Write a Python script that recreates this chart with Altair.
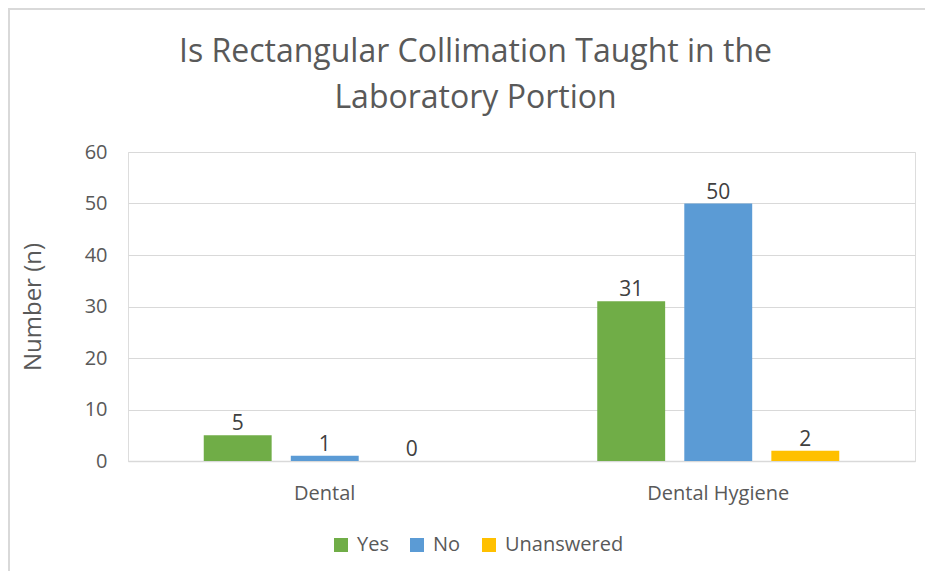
import altair as alt
import pandas as pd

categories = ["Dental", "Dental Hygiene"]
series = ["Yes", "No", "Unanswered"]
yes_vals = [5, 31]
no_vals = [1, 50]
unanswered_vals = [0, 2]
colors = ["#70AD47", "#5B9BD5", "#FFC000"]

rows = []
for i, c in enumerate(categories):
    for s, vals in zip(series, [yes_vals, no_vals, unanswered_vals]):
        rows.append({"category": c, "series": s, "value": vals[i]})
df = pd.DataFrame(rows)

FONT = "Open Sans"
GRAY = "#595959"

x_enc = alt.X("category:N", sort=categories, title=None,
              scale=alt.Scale(paddingInner=0.385, paddingOuter=0.1925),
              axis=alt.Axis(labelAngle=0, labelFontSize=20, labelColor=GRAY,
                            labelFont=FONT, ticks=False, domain=True,
                            domainColor="#d9d9d9", domainWidth=1.5,
                            labelPadding=22))
xo_enc = alt.XOffset("series:N", sort=series,
                     scale=alt.Scale(paddingInner=0.22, paddingOuter=0))
y_enc = alt.Y("value:Q", title="Number (n)",
              scale=alt.Scale(domain=[0, 60], nice=False),
              axis=alt.Axis(values=[0, 10, 20, 30, 40, 50, 60], labelFontSize=20,
                            labelColor=GRAY, labelFont=FONT, ticks=False,
                            domain=False, gridColor="#d9d9d9", gridWidth=1.2,
                            titleFontSize=24, titleColor=GRAY, titleFont=FONT,
                            titleFontWeight="normal", labelPadding=21, titlePadding=39))

bars = alt.Chart(df).mark_bar().encode(
    x=x_enc, xOffset=xo_enc, y=y_enc,
    color=alt.Color("series:N", sort=series,
                    scale=alt.Scale(domain=series, range=colors),
                    legend=alt.Legend(title=None, orient="none", direction="horizontal",
                                      legendX=203, legendY=383, symbolType="square",
                                      symbolSize=196, symbolStrokeWidth=0,
                                      labelFontSize=20, labelColor=GRAY, labelFont=FONT,
                                      columnPadding=18, symbolOpacity=1, labelOffset=6))
)

labels = alt.Chart(df).mark_text(baseline="bottom", dy=-1, fontSize=21,
                                 color="#404040", font=FONT).encode(
    x=alt.X("category:N", sort=categories),
    xOffset=alt.XOffset("series:N", sort=series),
    y="value:Q",
    text="value:Q",
)

frame_left = alt.Chart(df).mark_rule(color="#d9d9d9", strokeWidth=2).encode(
    x=alt.value(-119), y=alt.value(-144), y2=alt.value(430))
frame_top = alt.Chart(df).mark_rule(color="#d9d9d9", strokeWidth=2).encode(
    x=alt.value(-120), x2=alt.value(800), y=alt.value(-143))

chart = alt.layer(frame_left, frame_top, bars, labels).properties(
    width=787, height=309,
    title=alt.TitleParams(["Is Rectangular Collimation Taught in the", "Laboratory Portion"],
                          fontSize=32, color=GRAY, font=FONT, fontWeight="normal",
                          lineHeight=46, anchor="middle", dx=-46, offset=0, dy=108),
    padding={"left": 120, "top": 144, "right": 10, "bottom": 110},
    autosize=alt.AutoSizeParams(type="none"),
).configure_view(stroke=None).configure(background="white")

chart.save("out.html", embed_options={"renderer": "svg", "actions": False})
